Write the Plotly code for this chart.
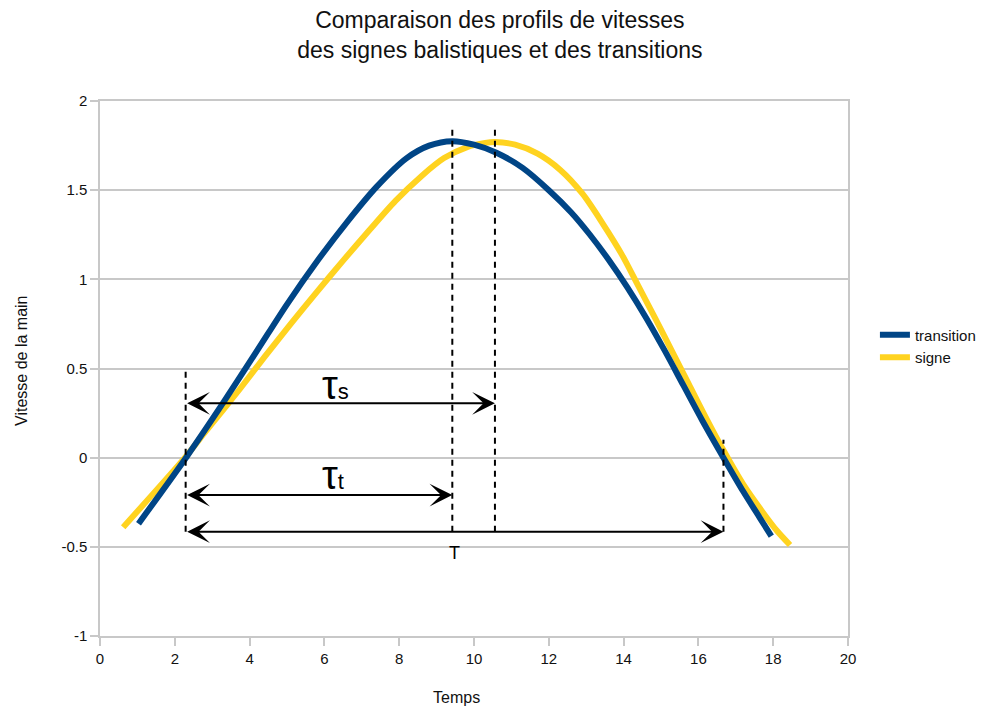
import plotly.graph_objects as go

# Hand-velocity profiles (time vs speed)
transition_t = [1.03, 2.3, 3.3, 4.2, 5.0, 5.8, 6.6, 7.4, 8.2, 8.8, 9.42, 10.0, 10.6, 11.3,
                12.0, 12.6, 13.1, 13.6, 14.1, 14.6, 15.1, 15.6, 16.1, 16.67, 17.2, 17.65, 17.95]
transition_v = [-0.37, 0.0, 0.31, 0.60, 0.86, 1.10, 1.32, 1.52, 1.68, 1.75, 1.775, 1.755,
                1.71, 1.625, 1.50, 1.375, 1.25, 1.11, 0.955, 0.785, 0.60, 0.405, 0.21, 0.0,
                -0.19, -0.34, -0.44]

signe_t = [0.62, 2.27, 2.8, 3.3, 3.74, 4.4, 5.1, 5.8, 6.5, 7.2, 7.9, 8.6, 9.2, 9.8, 10.3,
           10.56, 11.1, 11.7, 12.3, 12.9, 13.45, 13.95, 14.4, 14.85, 15.3, 15.75, 16.2, 16.7,
           17.2, 17.7, 18.1, 18.45]
signe_v = [-0.39, 0.0, 0.14, 0.27, 0.385, 0.565, 0.75, 0.93, 1.105, 1.275, 1.44, 1.58, 1.68,
           1.74, 1.765, 1.77, 1.755, 1.705, 1.615, 1.48, 1.31, 1.14, 0.96, 0.78, 0.595, 0.41,
           0.225, 0.03, -0.15, -0.30, -0.41, -0.49]

x_ticks = [0, 2, 4, 6, 8, 10, 12, 14, 16, 18, 20]
y_ticks = [-1, -0.5, 0, 0.5, 1, 1.5, 2]
y_tick_text = ["-1", "-0.5", "0", "0.5", "1", "1.5", "2"]

# Characteristic instants of the profiles
t_start = 2.29       # zero crossing on the rise
t_peak_t = 9.42      # peak of the transition profile
t_peak_s = 10.56     # peak of the sign profile
t_end = 16.67        # zero crossing on the fall
guide_top = 1.84
guide_bottom = -0.415
end_guide_top = 0.10
start_guide_top = 0.51
tau_s_level = 0.305
tau_t_level = -0.21
T_level = -0.415

BLUE = "#004586"
YELLOW = "#ffd320"
GRID = "#c8c8c8"
TEXT = "#111111"
FONT = "Liberation Sans, Arial, sans-serif"

fig = go.Figure()

fig.add_trace(go.Scatter(x=signe_t, y=signe_v, mode="lines", name="signe",
                         line=dict(color=YELLOW, width=6, shape="spline", smoothing=0.8),
                         legendrank=2))
fig.add_trace(go.Scatter(x=transition_t, y=transition_v, mode="lines", name="transition",
                         line=dict(color=BLUE, width=6, shape="spline", smoothing=0.8),
                         legendrank=1))

# Dashed vertical guides
guides = [
    (t_start, start_guide_top, guide_bottom),
    (t_peak_t, guide_top, guide_bottom),
    (t_peak_s, guide_top, guide_bottom),
    (t_end, end_guide_top, guide_bottom),
]
for gx, top, bottom in guides:
    fig.add_trace(go.Scatter(x=[gx, gx], y=[bottom, top], mode="lines", showlegend=False,
                             hoverinfo="skip",
                             line=dict(color="black", width=2, dash="6px,5px")))

# Double-headed duration arrows
for x_end, level in [(t_peak_s, tau_s_level), (t_peak_t, tau_t_level), (t_end, T_level)]:
    fig.add_annotation(x=x_end, y=level, ax=t_start, ay=level, xref="x", yref="y",
                       axref="x", ayref="y", text="", showarrow=True,
                       arrowhead=3, startarrowhead=3, arrowside="end+start",
                       arrowsize=1.9, startarrowsize=1.9, arrowwidth=2, arrowcolor="black",
                       standoff=0, startstandoff=0)

labels = [
    (6.31, 0.41, "<span style='font-size:40px'>τ</span><span style='font-size:22px'>s</span>"),
    (6.24, -0.095, "<span style='font-size:40px'>τ</span><span style='font-size:22px'>t</span>"),
    (9.49, -0.535, "<span style='font-size:18px'>T</span>"),
]
for lx, ly, txt in labels:
    fig.add_annotation(x=lx, y=ly, xref="x", yref="y", text=txt, showarrow=False,
                       font=dict(family=FONT, color="black"))

fig.add_annotation(x=0.476, y=-0.115, xref="paper", yref="paper", text="Temps",
                   showarrow=False, font=dict(family=FONT, size=16, color=TEXT),
                   xanchor="center", yanchor="middle")
fig.add_annotation(x=-0.105, y=0.515, xref="paper", yref="paper", text="Vitesse de la main",
                   textangle=-90, showarrow=False, font=dict(family=FONT, size=16, color=TEXT),
                   xanchor="center", yanchor="middle")

fig.update_layout(
    width=984, height=709,
    margin=dict(l=100, r=136, t=101, b=73, autoexpand=False),
    paper_bgcolor="white", plot_bgcolor="white",
    font=dict(family=FONT, size=15, color=TEXT),
    title=dict(text="Comparaison des profils de vitesses<br>des signes balistiques et des transitions",
               x=0.508, xanchor="center", y=0.96, yanchor="middle",
               font=dict(family=FONT, size=23, color=TEXT)),
    legend=dict(x=1.036, y=0.542, xanchor="left", yanchor="middle",
                font=dict(family=FONT, size=15, color=TEXT), tracegroupgap=0,
                itemwidth=30, bgcolor="rgba(0,0,0,0)"),
    showlegend=True,
)
fig.update_xaxes(range=[0, 20], tickvals=x_ticks, showgrid=False, zeroline=False,
                 showline=True, linecolor=GRID, linewidth=1.5, mirror=True,
                 ticks="outside", ticklen=8, tickcolor=GRID, tickwidth=1.5,
                 tickfont=dict(family=FONT, size=15, color=TEXT))
fig.update_yaxes(range=[-1, 2], tickvals=y_ticks, ticktext=y_tick_text, showgrid=True,
                 gridcolor=GRID, gridwidth=1.5,
                 zeroline=False, showline=True, linecolor=GRID, linewidth=1.5, mirror=True,
                 ticks="outside", ticklen=8, tickcolor=GRID, tickwidth=1.5,
                 tickfont=dict(family=FONT, size=15, color=TEXT))

fig.write_html("out.html")
